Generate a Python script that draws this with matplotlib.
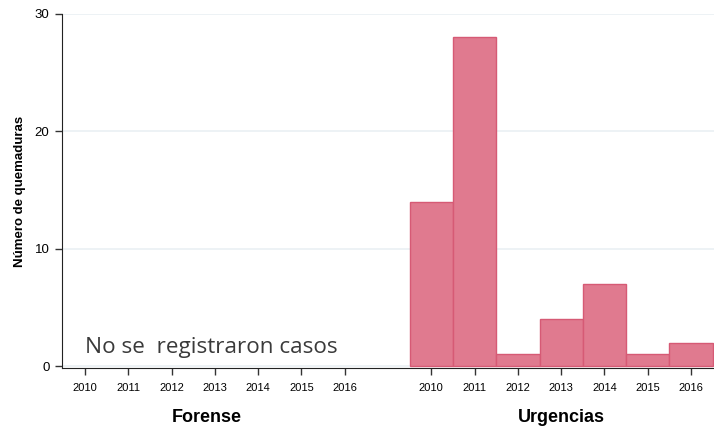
import matplotlib.pyplot as plt
import numpy as np

years = ['2010', '2011', '2012', '2013', '2014', '2015', '2016']
forense = [0, 0, 0, 0, 0, 0, 0]
urgencias = [14, 28, 1, 4, 7, 1, 2]
groups = ['Forense', 'Urgencias']

bar_color = '#E07A8F'
edge_color = '#D65A75'

fig = plt.figure(figsize=(7.14, 4.29), dpi=100)
ax = fig.add_axes([62 / 714, (429 - 368) / 429, (714 - 62) / 714, (368 - 14) / 429])

pos_f = np.arange(len(years))
pos_u = np.arange(len(years)) + len(years) + 1

ax.bar(pos_u, urgencias, width=1.0, color=bar_color, edgecolor=edge_color, linewidth=1.0, zorder=3)

ax.set_xlim(-0.53, 14.53)
ax.set_ylim(-0.17, 30)
ax.set_yticks([0, 10, 20, 30])
ax.yaxis.grid(True, color='#EAF0F3', linewidth=1.2, zorder=0)
ax.set_axisbelow(True)

ax.set_xticks(np.concatenate([pos_f, pos_u]))
ax.set_xticklabels(years + years, fontsize=8, family='Liberation Sans')
for lbl in ax.get_yticklabels():
    lbl.set_fontsize(9.5)
    lbl.set_family('Liberation Sans')
ax.tick_params(axis='both', direction='out', length=5, width=1, color='#333333', pad=4)
ax.tick_params(axis='x', pad=6)

for s in ['top', 'right']:
    ax.spines[s].set_visible(False)
ax.spines['left'].set_color('#222222')
ax.spines['bottom'].set_color('#222222')

ax.set_ylabel('Número de quemaduras', fontsize=9.5, fontweight='bold',
              family='Liberation Sans', labelpad=6)

ax.text(0.0, 1.6, 'No se  registraron casos', fontsize=16.2, color='#3a3a3a',
        family='Open Sans', va='center', ha='left')

# group labels under each block of years
trans = ax.get_xaxis_transform()
ax.text(pos_f.mean() - 0.18, -0.14, groups[0], transform=trans,
        fontsize=13, fontweight='bold', family='Liberation Sans', ha='center', va='center')
ax.text(pos_u.mean(), -0.14, groups[1], transform=trans,
        fontsize=13, fontweight='bold', family='Liberation Sans', ha='center', va='center')

fig.savefig('out.png', dpi=100)
